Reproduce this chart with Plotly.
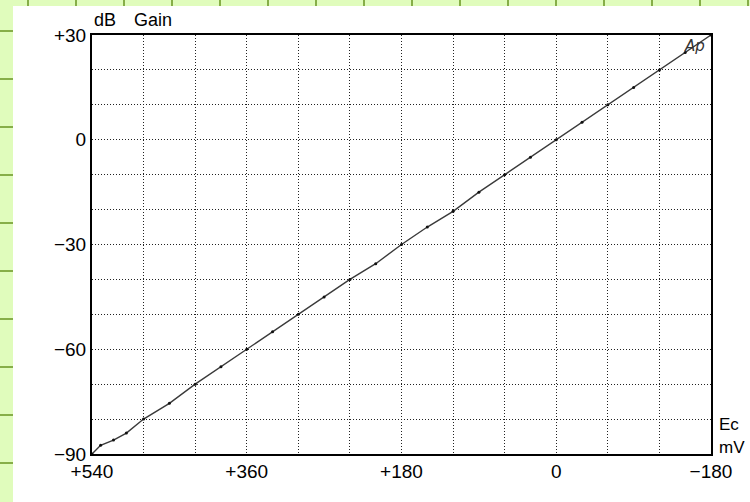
import plotly.graph_objects as go

# Data
ec_mv = [540, 530, 515, 500, 480, 450, 420, 390, 360, 330, 300, 270, 240, 210, 180, 150, 120, 90, 60, 30, 0, -30, -60, -90, -120, -150, -180]
ap_db = [-90, -87.5, -86, -84, -80, -75.5, -70, -65, -60, -55, -50, -45, -40, -35.5, -30, -25, -20.5, -15, -10, -5, 0, 5, 10, 15, 20, 25, 30]

x_grid = [540, 480, 420, 360, 300, 240, 180, 120, 60, 0, -60, -120, -180]
x_labels = ["+540", "", "", "+360", "", "", "+180", "", "", "0", "", "", "\u2212180"]
y_grid = [-90, -80, -70, -60, -50, -40, -30, -20, -10, 0, 10, 20, 30]
y_labels = ["\u221290", "", "", "\u221260", "", "", "\u221230", "", "", "0", "", "", "+30"]

W, H = 750, 502
L, R, T, B = 92, 711, 35, 454
pw, ph = R - L, B - T

def px(x):
    return (x - L) / pw

def py(y):
    return (B - y) / ph

GREEN_BG = "#e0fcbc"
GREEN_LINE = "#86ae48"

fig = go.Figure()
fig.add_trace(go.Scatter(
    x=ec_mv, y=ap_db, mode="lines+markers",
    line=dict(color="#3a3a3a", width=1.4),
    marker=dict(size=3, color="#111111"),
    showlegend=False, hoverinfo="skip",
))

shapes = [dict(type="rect", xref="paper", yref="paper",
               x0=px(13), x1=px(760), y0=py(512), y1=py(6),
               fillcolor="white", line=dict(width=0), layer="below")]
for k in range(16):
    xx = 28 + 48 * k
    shapes.append(dict(type="line", xref="paper", yref="paper",
                       x0=px(xx), x1=px(xx), y0=py(6), y1=py(-2),
                       line=dict(color=GREEN_LINE, width=2), layer="below"))
for k in range(11):
    yy = 31 + 48 * k
    shapes.append(dict(type="line", xref="paper", yref="paper",
                       x0=px(-2), x1=px(13), y0=py(yy), y1=py(yy),
                       line=dict(color=GREEN_LINE, width=2), layer="below"))

fnt = "Liberation Sans"
annotations = [
    dict(text="dB", x=px(92), y=py(32), xref="paper", yref="paper",
         xanchor="left", yanchor="bottom", showarrow=False,
         font=dict(family=fnt, size=18, color="black")),
    dict(text="Gain", x=px(132), y=py(32), xref="paper", yref="paper",
         xanchor="left", yanchor="bottom", showarrow=False,
         font=dict(family=fnt, size=18, color="black")),
    dict(text="Ec", x=px(717), y=py(424), xref="paper", yref="paper",
         xanchor="left", yanchor="middle", showarrow=False,
         font=dict(family=fnt, size=17, color="black")),
    dict(text="mV", x=px(717), y=py(447), xref="paper", yref="paper",
         xanchor="left", yanchor="middle", showarrow=False,
         font=dict(family=fnt, size=17, color="black")),
    dict(text="<i>Ap</i>", x=px(694), y=py(46), xref="paper", yref="paper",
         xanchor="center", yanchor="middle", showarrow=False,
         font=dict(family="DejaVu Sans", size=15, color="#333333")),
]

GRID_DASH = "1px,2px"

fig.update_layout(
    width=W, height=H,
    margin=dict(l=L, r=W - R, t=T, b=H - B, pad=0),
    paper_bgcolor=GREEN_BG, plot_bgcolor="white",
    shapes=shapes, annotations=annotations,
    xaxis=dict(range=[540, -180], tickmode="array", tickvals=x_grid, ticktext=x_labels,
               showgrid=True, gridcolor="#222222", griddash=GRID_DASH, gridwidth=1,
               showline=True, linecolor="black", linewidth=2, mirror=True,
               zeroline=False, ticks="", ticklabelstandoff=-1,
               tickfont=dict(family=fnt, size=19, color="black")),
    yaxis=dict(range=[-90, 30], tickmode="array", tickvals=y_grid, ticktext=y_labels,
               showgrid=True, gridcolor="#222222", griddash=GRID_DASH, gridwidth=1,
               showline=True, linecolor="black", linewidth=2, mirror=True,
               zeroline=False, ticks="", ticklabelstandoff=0,
               tickfont=dict(family=fnt, size=19, color="black")),
)

fig.write_html("out.html", config={"displayModeBar": False},
               post_script="document.body.style.margin='0';document.body.style.overflow='hidden';")
